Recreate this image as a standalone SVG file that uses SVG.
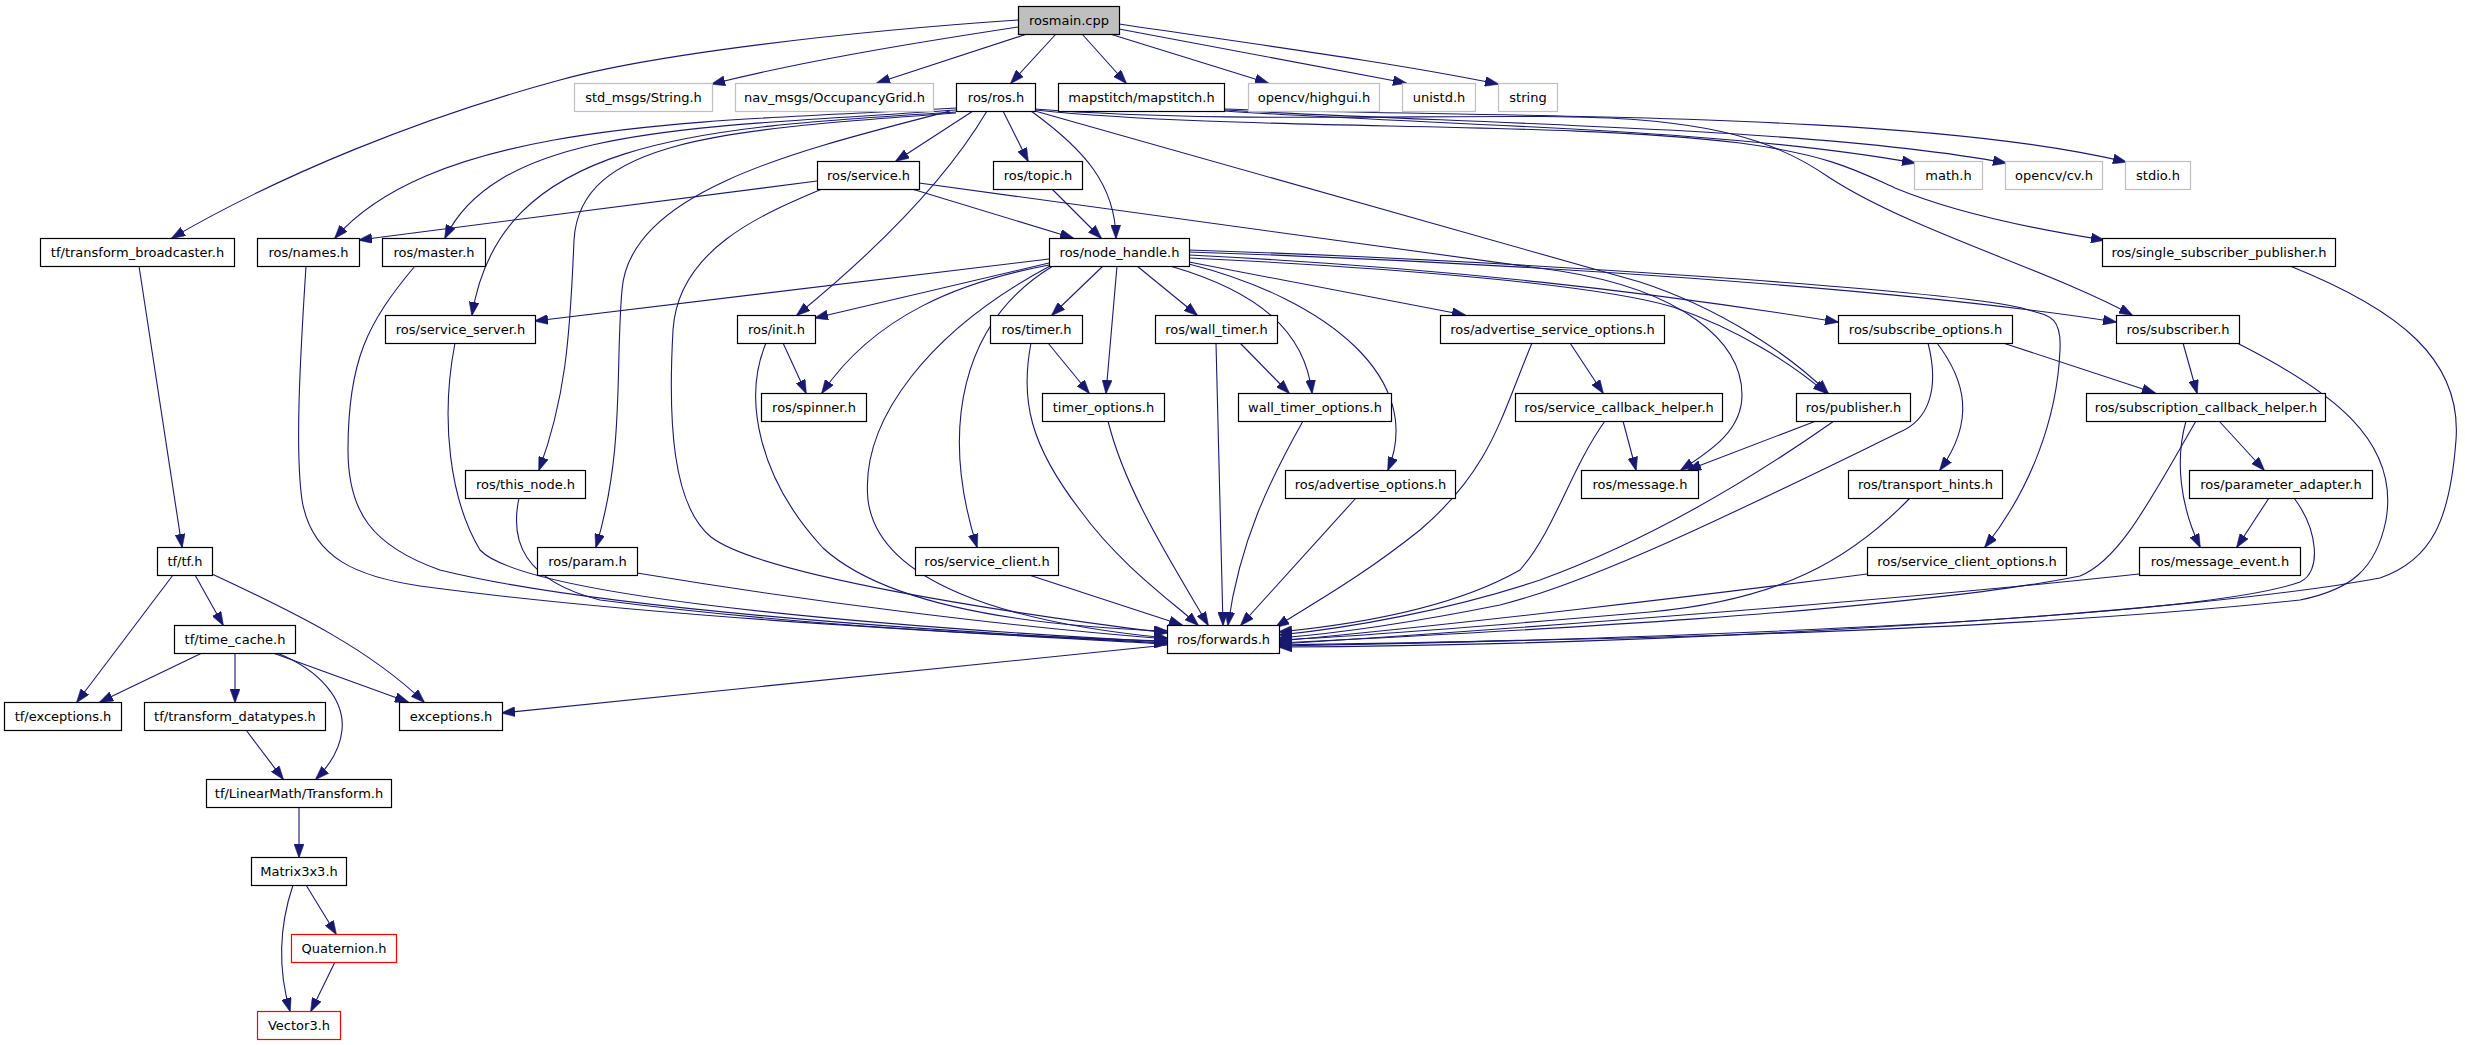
<svg xmlns="http://www.w3.org/2000/svg" width="2465" height="1045" viewBox="0 0 2465 1045">
<style>
rect.n{fill:#ffffff;stroke:#000000;stroke-width:1.2}
rect.g{fill:#ffffff;stroke:#bfbfbf;stroke-width:1.2}
rect.r{fill:#ffffff;stroke:#ff0000;stroke-width:1.2}
rect.root{fill:#bfbfbf;stroke:#000000;stroke-width:1.2}
text{font-family:"DejaVu Sans","Liberation Sans",sans-serif;font-size:13px;fill:#000000;text-anchor:middle}
#edges path{fill:none;stroke:#191970;stroke-width:1.1;marker-end:url(#ah)}
</style>
<defs>
<marker id="ah" viewBox="0 0 14 10" refX="13" refY="5" markerWidth="14" markerHeight="10" markerUnits="userSpaceOnUse" orient="auto">
<path d="M0,0 L14,5 L0,10 z" fill="#191970" stroke="#191970" stroke-width="0.5"/>
</marker>
</defs>
<rect x="0" y="0" width="2465" height="1045" fill="#ffffff"/>
<g id="edges">
<path d="M1018,20 C840,32 650,55 560,80 C420,118 280,175 172,238"/>
<path d="M1018,27 C900,45 800,62 712,84"/>
<path d="M1027,34 L877,83"/>
<path d="M1056,34 L1011,83"/>
<path d="M1082,34 L1126,83"/>
<path d="M1110,34 L1268,83"/>
<path d="M1119,29 L1406,83"/>
<path d="M1119,24 C1260,45 1390,62 1498,84"/>
<path d="M973,111 L896,161"/>
<path d="M1003,111 L1028,161"/>
<path d="M1031,111 C1085,150 1115,185 1116,238"/>
<path d="M987,111 C955,165 895,235 797,315"/>
<path d="M956,108 C720,122 440,118 335,238"/>
<path d="M956,110 C700,128 500,125 445,238"/>
<path d="M956,112 C690,128 500,140 472,315"/>
<path d="M956,113 C720,130 580,140 574,240 C570,340 565,400 539,470"/>
<path d="M950,111 C800,150 630,190 622,290 C615,370 625,450 596,547"/>
<path d="M1035,111 L1640,282 C1720,308 1790,355 1828,393"/>
<path d="M1035,110 C1250,132 1550,120 1740,143 C1830,155 1860,172 1895,188 C1960,215 2040,230 2104,240"/>
<path d="M1035,109 C1250,126 1520,110 1640,120 C1740,128 1790,150 1830,178 C1910,230 2050,270 2132,315"/>
<path d="M1224,111 C1450,126 1720,128 1915,163"/>
<path d="M1224,110 C1480,124 1820,128 2006,163"/>
<path d="M1224,109 C1520,118 1920,112 2126,162"/>
<path d="M817,181 L359,240"/>
<path d="M912,189 L1073,238"/>
<path d="M822,189 C760,215 678,250 673,330 C668,420 672,505 711,537 C760,575 1000,612 1167,633"/>
<path d="M919,183 L1560,271 C1680,290 1742,340 1742,395 C1742,430 1712,450 1681,470"/>
<path d="M1049,259 L535,321"/>
<path d="M1049,263 L815,318"/>
<path d="M1049,265 C960,282 875,315 822,393"/>
<path d="M1050,266 C930,330 860,420 868,500 C878,580 1000,622 1167,638"/>
<path d="M1053,266 C960,322 940,430 977,547"/>
<path d="M1103,266 L1052,315"/>
<path d="M1117,266 L1106,393"/>
<path d="M1137,266 L1197,315"/>
<path d="M1170,266 C1260,292 1305,332 1312,393"/>
<path d="M1189,264 C1330,300 1425,380 1388,470"/>
<path d="M1189,262 L1465,315"/>
<path d="M1189,258 C1400,268 1600,285 1673,307 C1740,330 1792,364 1826,393"/>
<path d="M1189,255 C1450,268 1650,292 1838,322"/>
<path d="M1189,252 C1500,262 1900,288 2116,322"/>
<path d="M1189,250 C1500,260 1950,290 2022,308 C2045,316 2062,312 2060,350 C2057,420 2030,490 1985,547"/>
<path d="M1052,189 L1101,238"/>
<path d="M783,343 L806,393"/>
<path d="M766,343 C742,400 760,480 823,548 C880,600 1000,625 1167,631"/>
<path d="M1048,343 L1089,393"/>
<path d="M1031,343 C1020,400 1030,445 1080,510 C1120,565 1170,600 1198,625"/>
<path d="M1108,421 C1125,490 1170,560 1208,625"/>
<path d="M1240,343 L1289,393"/>
<path d="M1216,343 L1223,625"/>
<path d="M1303,421 C1270,480 1240,540 1228,625"/>
<path d="M1356,498 L1241,625"/>
<path d="M1570,343 L1603,393"/>
<path d="M1532,343 C1500,420 1490,470 1420,530 C1360,578 1310,605 1276,627"/>
<path d="M1623,421 L1636,470"/>
<path d="M1605,421 C1570,470 1555,530 1520,570 C1450,610 1350,625 1279,632"/>
<path d="M1816,421 L1688,470"/>
<path d="M1834,421 C1750,480 1650,540 1540,580 C1450,610 1350,628 1279,635"/>
<path d="M1937,343 C1965,380 1976,420 1940,470"/>
<path d="M2003,343 L2155,393"/>
<path d="M1928,343 C1940,390 1928,420 1900,432 C1760,500 1600,580 1500,605 C1400,625 1330,634 1279,638"/>
<path d="M1910,498 C1850,560 1780,600 1650,612 C1500,625 1380,635 1279,640"/>
<path d="M1867,574 C1700,596 1450,625 1279,641"/>
<path d="M2183,343 L2197,393"/>
<path d="M2237,343 C2330,390 2400,440 2386,520 C2376,570 2350,590 2300,600 C2000,632 1600,640 1279,645"/>
<path d="M2290,266 C2400,310 2462,360 2456,440 C2450,520 2432,560 2380,578 C2200,612 1700,645 1279,647"/>
<path d="M2219,421 L2264,470"/>
<path d="M2186,421 C2175,460 2180,505 2200,547"/>
<path d="M2196,421 C2150,500 2120,560 2080,576 C1900,612 1500,632 1279,643"/>
<path d="M2269,498 L2237,547"/>
<path d="M2294,498 C2318,530 2322,572 2300,582 C2200,618 1700,638 1279,646"/>
<path d="M2139,574 C1900,600 1500,630 1279,644"/>
<path d="M306,266 C300,360 295,450 302,500 C312,560 360,577 420,586 C650,617 950,632 1167,644"/>
<path d="M415,266 C368,322 348,360 348,450 C348,512 372,546 440,570 C600,610 950,632 1167,643"/>
<path d="M455,343 C440,420 450,500 480,550 C520,592 800,622 1167,642"/>
<path d="M519,498 C510,540 522,580 600,600 C800,626 1000,636 1167,641"/>
<path d="M637,573 C800,600 1000,626 1167,639"/>
<path d="M1029,575 L1182,625"/>
<path d="M1167,645 L502,713"/>
<path d="M139,266 L182,547"/>
<path d="M173,575 L77,702"/>
<path d="M195,575 L223,625"/>
<path d="M212,574 C300,615 370,650 424,702"/>
<path d="M202,653 L100,702"/>
<path d="M235,653 L235,702"/>
<path d="M273,653 L408,702"/>
<path d="M277,653 C320,670 345,700 342,730 C340,750 330,765 316,779"/>
<path d="M246,730 L283,779"/>
<path d="M299,807 L299,857"/>
<path d="M306,885 L336,934"/>
<path d="M293,885 C278,930 278,970 290,1011"/>
<path d="M335,962 L311,1011"/>
</g>
<g id="n_rosmain"><rect class="root" x="1018.5" y="6.5" width="101" height="28"/><text x="1069" y="25">rosmain.cpp</text></g>
<g id="n_std_msgs"><rect class="g" x="574.5" y="83.5" width="138" height="28"/><text x="643.5" y="102">std_msgs/String.h</text></g>
<g id="n_nav_msgs"><rect class="g" x="735.5" y="83.5" width="198" height="28"/><text x="834.5" y="102">nav_msgs/OccupancyGrid.h</text></g>
<g id="n_ros"><rect class="n" x="956.5" y="83.5" width="79" height="28"/><text x="996" y="102">ros/ros.h</text></g>
<g id="n_mapstitch"><rect class="n" x="1058.5" y="83.5" width="166" height="28"/><text x="1141.5" y="102">mapstitch/mapstitch.h</text></g>
<g id="n_highgui"><rect class="g" x="1248.5" y="83.5" width="131" height="28"/><text x="1314" y="102">opencv/highgui.h</text></g>
<g id="n_unistd"><rect class="g" x="1402.5" y="83.5" width="73" height="28"/><text x="1439" y="102">unistd.h</text></g>
<g id="n_string"><rect class="g" x="1498.5" y="83.5" width="59" height="28"/><text x="1528" y="102">string</text></g>
<g id="n_service"><rect class="n" x="817.5" y="161.5" width="102" height="28"/><text x="868.5" y="180">ros/service.h</text></g>
<g id="n_topic"><rect class="n" x="993.5" y="161.5" width="89" height="28"/><text x="1038" y="180">ros/topic.h</text></g>
<g id="n_math"><rect class="g" x="1914.5" y="161.5" width="68" height="28"/><text x="1948.5" y="180">math.h</text></g>
<g id="n_cv"><rect class="g" x="2005.5" y="161.5" width="97" height="28"/><text x="2054" y="180">opencv/cv.h</text></g>
<g id="n_stdio"><rect class="g" x="2125.5" y="161.5" width="65" height="28"/><text x="2158" y="180">stdio.h</text></g>
<g id="n_tfbroad"><rect class="n" x="40.5" y="238.5" width="194" height="28"/><text x="137.5" y="257">tf/transform_broadcaster.h</text></g>
<g id="n_names"><rect class="n" x="257.5" y="238.5" width="102" height="28"/><text x="308.5" y="257">ros/names.h</text></g>
<g id="n_master"><rect class="n" x="382.5" y="238.5" width="103" height="28"/><text x="434" y="257">ros/master.h</text></g>
<g id="n_node_handle"><rect class="n" x="1049.5" y="238.5" width="140" height="28"/><text x="1119.5" y="257">ros/node_handle.h</text></g>
<g id="n_ssp"><rect class="n" x="2102.5" y="238.5" width="233" height="28"/><text x="2219" y="257">ros/single_subscriber_publisher.h</text></g>
<g id="n_service_server"><rect class="n" x="385.5" y="315.5" width="150" height="28"/><text x="460.5" y="334">ros/service_server.h</text></g>
<g id="n_init"><rect class="n" x="737.5" y="315.5" width="78" height="28"/><text x="776.5" y="334">ros/init.h</text></g>
<g id="n_timer"><rect class="n" x="990.5" y="315.5" width="92" height="28"/><text x="1036.5" y="334">ros/timer.h</text></g>
<g id="n_wall_timer"><rect class="n" x="1155.5" y="315.5" width="122" height="28"/><text x="1216.5" y="334">ros/wall_timer.h</text></g>
<g id="n_aso"><rect class="n" x="1440.5" y="315.5" width="224" height="28"/><text x="1552.5" y="334">ros/advertise_service_options.h</text></g>
<g id="n_subscribe_options"><rect class="n" x="1838.5" y="315.5" width="174" height="28"/><text x="1925.5" y="334">ros/subscribe_options.h</text></g>
<g id="n_subscriber"><rect class="n" x="2116.5" y="315.5" width="123" height="28"/><text x="2178" y="334">ros/subscriber.h</text></g>
<g id="n_spinner"><rect class="n" x="761.5" y="393.5" width="105" height="28"/><text x="814" y="412">ros/spinner.h</text></g>
<g id="n_timer_options"><rect class="n" x="1042.5" y="393.5" width="122" height="28"/><text x="1103.5" y="412">timer_options.h</text></g>
<g id="n_wall_timer_options"><rect class="n" x="1238.5" y="393.5" width="153" height="28"/><text x="1315" y="412">wall_timer_options.h</text></g>
<g id="n_service_callback_helper"><rect class="n" x="1515.5" y="393.5" width="207" height="28"/><text x="1619" y="412">ros/service_callback_helper.h</text></g>
<g id="n_publisher"><rect class="n" x="1796.5" y="393.5" width="114" height="28"/><text x="1853.5" y="412">ros/publisher.h</text></g>
<g id="n_subscription_callback_helper"><rect class="n" x="2086.5" y="393.5" width="239" height="28"/><text x="2206" y="412">ros/subscription_callback_helper.h</text></g>
<g id="n_this_node"><rect class="n" x="465.5" y="470.5" width="120" height="28"/><text x="525.5" y="489">ros/this_node.h</text></g>
<g id="n_advertise_options"><rect class="n" x="1285.5" y="470.5" width="170" height="28"/><text x="1370.5" y="489">ros/advertise_options.h</text></g>
<g id="n_message"><rect class="n" x="1581.5" y="470.5" width="117" height="28"/><text x="1640" y="489">ros/message.h</text></g>
<g id="n_transport_hints"><rect class="n" x="1848.5" y="470.5" width="154" height="28"/><text x="1925.5" y="489">ros/transport_hints.h</text></g>
<g id="n_parameter_adapter"><rect class="n" x="2189.5" y="470.5" width="183" height="28"/><text x="2281" y="489">ros/parameter_adapter.h</text></g>
<g id="n_tf"><rect class="n" x="157.5" y="547.5" width="55" height="28"/><text x="185" y="566">tf/tf.h</text></g>
<g id="n_param"><rect class="n" x="537.5" y="547.5" width="100" height="28"/><text x="587.5" y="566">ros/param.h</text></g>
<g id="n_service_client"><rect class="n" x="915.5" y="547.5" width="143" height="28"/><text x="987" y="566">ros/service_client.h</text></g>
<g id="n_service_client_options"><rect class="n" x="1867.5" y="547.5" width="199" height="28"/><text x="1967" y="566">ros/service_client_options.h</text></g>
<g id="n_message_event"><rect class="n" x="2139.5" y="547.5" width="161" height="28"/><text x="2220" y="566">ros/message_event.h</text></g>
<g id="n_time_cache"><rect class="n" x="174.5" y="625.5" width="121" height="28"/><text x="235" y="644">tf/time_cache.h</text></g>
<g id="n_forwards"><rect class="n" x="1167.5" y="625.5" width="112" height="28"/><text x="1223.5" y="644">ros/forwards.h</text></g>
<g id="n_tf_exceptions"><rect class="n" x="4.5" y="702.5" width="117" height="28"/><text x="63" y="721">tf/exceptions.h</text></g>
<g id="n_transform_datatypes"><rect class="n" x="144.5" y="702.5" width="181" height="28"/><text x="235" y="721">tf/transform_datatypes.h</text></g>
<g id="n_exceptions"><rect class="n" x="399.5" y="702.5" width="103" height="28"/><text x="451" y="721">exceptions.h</text></g>
<g id="n_transform"><rect class="n" x="206.5" y="779.5" width="185" height="28"/><text x="299" y="798">tf/LinearMath/Transform.h</text></g>
<g id="n_matrix"><rect class="n" x="251.5" y="857.5" width="95" height="28"/><text x="299" y="876">Matrix3x3.h</text></g>
<g id="n_quaternion"><rect class="r" x="291.5" y="934.5" width="105" height="28"/><text x="344" y="953">Quaternion.h</text></g>
<g id="n_vector3"><rect class="r" x="257.5" y="1011.5" width="83" height="28"/><text x="299" y="1030">Vector3.h</text></g>
</svg>
